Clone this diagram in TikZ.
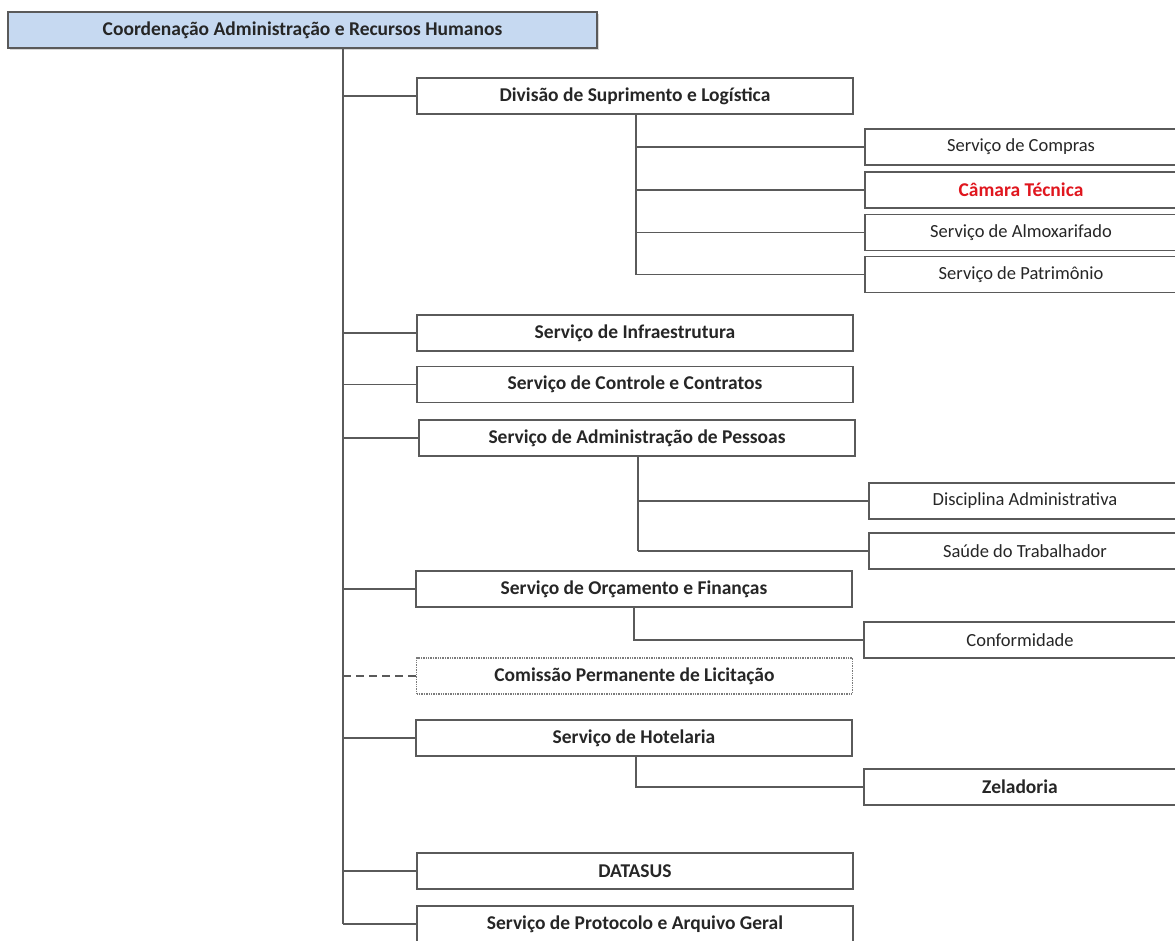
\documentclass[tikz,border=0pt]{standalone}
\usepackage{fontspec}
\setmainfont{Carlito}
\usetikzlibrary{shadows}
\definecolor{lin}{HTML}{5A5A5A}
\definecolor{topfill}{HTML}{C6D9F1}
\definecolor{redt}{HTML}{E0161E}
\newcommand{\regfont}{\fontsize{18.5}{22}\selectfont}
\newcommand{\boldfont}{\fontsize{19.5}{23}\selectfont\bfseries}
\tikzset{
  base/.style={draw=lin, line width=1.4pt, fill=white, inner sep=0pt, minimum height=36pt,
    font=\regfont, text=black!85},
  mainbox/.style={base, minimum width=436pt, font=\boldfont},
  subbox/.style={base, minimum width=312pt},
  conn/.style={draw=lin, line width=1.4pt},
  dconn/.style={draw=lin, line width=1.4pt, dash pattern=on 8pt off 5pt},
}
\begin{document}
\begin{tikzpicture}[x=1pt,y=-1pt]
\clip (0,0) rectangle (1175,940);
\fill[white] (0,0) rectangle (1175,940);
% top box
\node[base, minimum width=589pt, fill=topfill, font=\boldfont,
  drop shadow={shadow xshift=1.5pt, shadow yshift=-2pt, fill=black!30}] (top) at (302.5,30) {Coordenação Administração e Recursos Humanos};
\coordinate (trunk) at (343,48);
% main boxes
\node[mainbox] (div) at (635,96) {Divisão de Suprimento e Logística};
\node[mainbox] (infra) at (635,333) {Serviço de Infraestrutura};
\node[mainbox] (ctrl) at (635,384.5) {Serviço de Controle e Contratos};
\node[mainbox] (adm) at (637,438) {Serviço de Administração de Pessoas};
\node[mainbox] (orc) at (634,589) {Serviço de Orçamento e Finanças};
\node[mainbox, draw=lin!80, densely dotted, line width=1.2pt] (com) at (634.5,676) {Comissão Permanente de Licitação};
\node[mainbox] (hot) at (634,738) {Serviço de Hotelaria};
\node[mainbox] (dat) at (635,871) {DATASUS};
\node[mainbox] (prot) at (635,924) {Serviço de Protocolo e Arquivo Geral};
% sub boxes
\node[subbox] (comp) at (1021,147) {Serviço de Compras};
\node[subbox, text=redt, font=\boldfont] (cam) at (1021,190) {Câmara Técnica};
\node[subbox] (alm) at (1021,232.5) {Serviço de Almoxarifado};
\node[subbox] (pat) at (1021,274.5) {Serviço de Patrimônio};
\node[subbox] (disc) at (1025,501) {Disciplina Administrativa};
\node[subbox] (saude) at (1025,551) {Saúde do Trabalhador};
\node[subbox] (conf) at (1020,640) {Conformidade};
\node[subbox, font=\boldfont] (zel) at (1020,787) {Zeladoria};
% trunk
\draw[conn] (trunk) -- (trunk |- prot.west);
\foreach \n in {div,infra,ctrl,adm,orc,hot,dat,prot}
  \draw[conn] (\n.west) -- (\n.west -| trunk);
\draw[dconn] (com.west) -- (com.west -| trunk);
% division subs
\coordinate (dvx) at (636,0);
\draw[conn] (div.south -| dvx) -- (pat.west -| dvx);
\foreach \n in {comp,cam,alm,pat}
  \draw[conn] (\n.west) -- (\n.west -| dvx);
% admin subs
\coordinate (avx) at (638,0);
\draw[conn] (adm.south -| avx) -- (saude.west -| avx);
\foreach \n in {disc,saude}
  \draw[conn] (\n.west) -- (\n.west -| avx);
% orcamento sub
\coordinate (ovx) at (634,0);
\draw[conn] (orc.south -| ovx) |- (conf.west);
% hotelaria sub
\coordinate (hvx) at (636,0);
\draw[conn] (hot.south -| hvx) |- (zel.west);
\end{tikzpicture}
\end{document}
